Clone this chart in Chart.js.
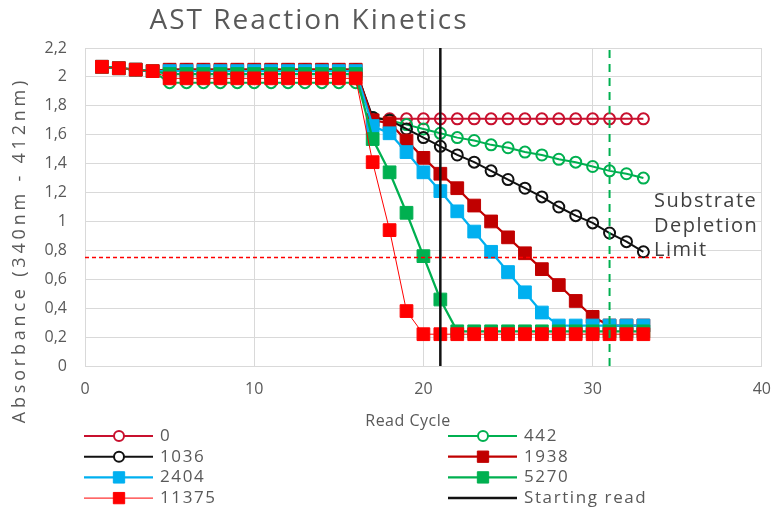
<!DOCTYPE html>
<html>
<head>
<meta charset="utf-8">
<script src="https://cdn.jsdelivr.net/npm/chart.js@4"></script>
<style>
  html, body { margin: 0; padding: 0; background: #fff; overflow: hidden; }
  #box { width: 774px; height: 509px; }
  canvas { display: block; }
</style>
</head>
<body>
<div id="box"><canvas id="out"></canvas></div>
<script>
// read cycles 1..33
const cycles = [1,2,3,4,5,6,7,8,9,10,11,12,13,14,15,16,17,18,19,20,21,22,23,24,25,26,27,28,29,30,31,32,33];

// absorbance per enzyme concentration
const s0     = [2.07,2.06,2.05,2.04,2.05,2.05,2.05,2.05,2.05,2.05,2.05,2.05,2.05,2.05,2.05,2.05,1.71,1.71,1.71,1.71,1.71,1.71,1.71,1.71,1.71,1.71,1.71,1.71,1.71,1.71,1.71,1.71,1.71];
const s442   = [2.07,2.06,2.05,2.04,1.96,1.96,1.96,1.96,1.96,1.96,1.96,1.96,1.96,1.96,1.96,1.96,1.72,1.70,1.67,1.64,1.61,1.58,1.56,1.53,1.51,1.48,1.46,1.43,1.41,1.38,1.35,1.33,1.30];
const s1036  = [2.07,2.06,2.05,2.04,2.05,2.05,2.05,2.05,2.05,2.05,2.05,2.05,2.05,2.05,2.05,2.05,1.72,1.70,1.64,1.58,1.52,1.46,1.41,1.35,1.29,1.23,1.17,1.10,1.04,0.99,0.92,0.86,0.79];
const s1938  = [2.07,2.06,2.05,2.04,2.05,2.05,2.05,2.05,2.05,2.05,2.05,2.05,2.05,2.05,2.05,2.05,1.70,1.68,1.56,1.44,1.33,1.23,1.11,1.00,0.89,0.78,0.67,0.56,0.45,0.34,0.28,0.28,0.28];
const s2404  = [2.07,2.06,2.05,2.04,2.04,2.04,2.04,2.04,2.04,2.04,2.04,2.04,2.04,2.04,2.04,2.04,1.66,1.61,1.48,1.34,1.21,1.07,0.93,0.79,0.65,0.51,0.37,0.28,0.28,0.28,0.28,0.28,0.28];
const s5270  = [2.07,2.06,2.05,2.04,2.02,2.02,2.02,2.02,2.02,2.02,2.02,2.02,2.02,2.02,2.02,2.02,1.57,1.34,1.06,0.76,0.46,0.24,0.24,0.24,0.24,0.24,0.24,0.24,0.24,0.24,0.24,0.24,0.24];
const s11375 = [2.07,2.06,2.05,2.04,1.99,1.99,1.99,1.99,1.99,1.99,1.99,1.99,1.99,1.99,1.99,1.99,1.41,0.94,0.38,0.22,0.22,0.22,0.22,0.22,0.22,0.22,0.22,0.22,0.22,0.22,0.22,0.22,0.22];

// reference lines
const startRead = 21;
const endRead = 31;
const depletionLimit = 0.75;
const depletionEnd = 34.7;

const xTicks = [0, 10, 20, 30, 40];
const yMax = 2.2;

const FONT = "'Open Sans', sans-serif";
const GREY = "#595959";

function pts(arr) {
  return arr.map((y, i) => ({ x: cycles[i], y: y }));
}

function series(label, arr, color, style, width, order) {
  const open = style === "circle";
  return {
    label: label,
    data: pts(arr),
    borderColor: color,
    backgroundColor: open ? "rgba(0,0,0,0)" : color,
    borderWidth: width,
    pointStyle: open ? "circle" : "rect",
    pointRadius: open ? 5.5 : 9,
    pointBorderWidth: open ? 2 : 1,
    pointBorderColor: color,
    pointBackgroundColor: open ? "rgba(0,0,0,0)" : color,
    pointHoverRadius: open ? 5.5 : 9,
    order: order,
    tension: 0
  };
}

const dataSets = [
  series("0", s0, "#C8102E", "circle", 2, 9),
  series("442", s442, "#00B050", "circle", 2, 8),
  series("1036", s1036, "#111111", "circle", 2, 7),
  series("1938", s1938, "#C00000", "rect", 2.25, 6),
  series("2404", s2404, "#00B0F0", "rect", 2.25, 5),
  series("5270", s5270, "#00B050", "rect", 2.25, 4),
  series("11375", s11375, "#FF0000", "rect", 1, 3),
  {
    label: "Starting read",
    data: [{ x: startRead, y: 0 }, { x: startRead, y: yMax }],
    borderColor: "#111111", borderWidth: 2.5, pointRadius: 0, order: 0
  },
  {
    label: "",
    data: [{ x: endRead, y: 0 }, { x: endRead, y: yMax }],
    borderColor: "#00B050", borderWidth: 2, borderDash: [8, 6], pointRadius: 0, order: 1
  },
  {
    label: "",
    data: [{ x: 0, y: depletionLimit }, { x: depletionEnd, y: depletionLimit }],
    borderColor: "#FF0000", borderWidth: 1.5, borderDash: [4, 3], pointRadius: 0, order: 2
  }
];

// legend: which datasets, two columns
const legendIdx = [0, 1, 2, 3, 4, 5, 6, 7];

const extras = {
  id: "extras",
  afterDraw(chart) {
    const ctx = chart.ctx;
    ctx.save();
    ctx.fillStyle = GREY;
    ctx.textBaseline = "middle";

    // title
    ctx.font = "28px " + FONT;
    ctx.letterSpacing = "2px";
    ctx.textAlign = "center";
    ctx.fillText("AST Reaction Kinetics", 309, 21);

    // axis titles
    ctx.font = "16px " + FONT;
    ctx.letterSpacing = "0.5px";
    ctx.fillText("Read Cycle", 408, 421);
    ctx.save();
    ctx.translate(20, 250);
    ctx.rotate(-Math.PI / 2);
    ctx.font = "18px " + FONT;
    ctx.letterSpacing = "3.8px";
    ctx.fillText("Absorbance (340nm - 412nm)", 0, 0);
    ctx.restore();

    // annotation
    ctx.fillStyle = "#404040";
    ctx.font = "20px " + FONT;
    ctx.letterSpacing = "1.5px";
    ctx.textAlign = "left";
    ctx.fillText("Substrate", 654, 201);
    ctx.fillText("Depletion", 654, 226);
    ctx.fillText("Limit", 654, 250);

    // legend
    ctx.font = "17px " + FONT;
    ctx.letterSpacing = "1.6px";
    legendIdx.forEach((di, k) => {
      const ds = chart.data.datasets[di];
      const col = k % 2, row = Math.floor(k / 2);
      const x0 = col === 0 ? 84 : 448;
      const y = 436 + row * 20.7;
      ctx.strokeStyle = ds.borderColor;
      ctx.lineWidth = ds.borderWidth;
      ctx.setLineDash([]);
      ctx.beginPath();
      ctx.moveTo(x0, y);
      ctx.lineTo(x0 + 69, y);
      ctx.stroke();
      if (ds.pointRadius) {
        ctx.fillStyle = ds.pointStyle === "circle" ? "#ffffff" : ds.borderColor;
        ctx.strokeStyle = ds.borderColor;
        ctx.lineWidth = ds.pointBorderWidth;
        Chart.helpers.drawPoint(ctx, {
          pointStyle: ds.pointStyle,
          radius: ds.pointStyle === "circle" ? 5 : 8,
          borderWidth: ds.pointBorderWidth,
          rotation: 0
        }, x0 + 35, y);
      }
      ctx.fillStyle = GREY;
      ctx.fillText(ds.label, x0 + 76, y);
    });
    ctx.restore();
  }
};

const chartConfig = {
  type: "line",
  data: { datasets: dataSets },
  options: {
    responsive: true,
    maintainAspectRatio: false,
    animation: false,
    layout: { padding: { left: 0, right: 12, top: 48, bottom: 0 } },
    plugins: {
      legend: { display: false },
      tooltip: { enabled: false },
      title: { display: false }
    },
    scales: {
      x: {
        type: "linear",
        min: 0,
        max: 40,
        afterBuildTicks: s => { s.ticks = xTicks.map(v => ({ value: v })); },
        afterFit: s => { s.height = 143; },
        grid: { color: "#d9d9d9", drawTicks: true, tickLength: 11, tickColor: "rgba(0,0,0,0)" },
        border: { color: "#d9d9d9" },
        ticks: { color: GREY, font: { family: FONT, size: 16 }, padding: 3 }
      },
      y: {
        min: 0,
        max: yMax,
        afterFit: s => { s.width = 85; },
        grid: { color: "#d9d9d9", drawTicks: true, tickLength: 15, tickColor: "rgba(0,0,0,0)" },
        border: { color: "#d9d9d9" },
        ticks: {
          stepSize: 0.2,
          color: GREY,
          font: { family: FONT, size: 16 },
          padding: 3,
          callback: v => (Math.round(v * 10) / 10).toString().replace(".", ",")
        }
      }
    }
  },
  plugins: [extras]
};

window.chart = new Chart(document.getElementById("out").getContext("2d"), chartConfig);
</script>
</body>
</html>
